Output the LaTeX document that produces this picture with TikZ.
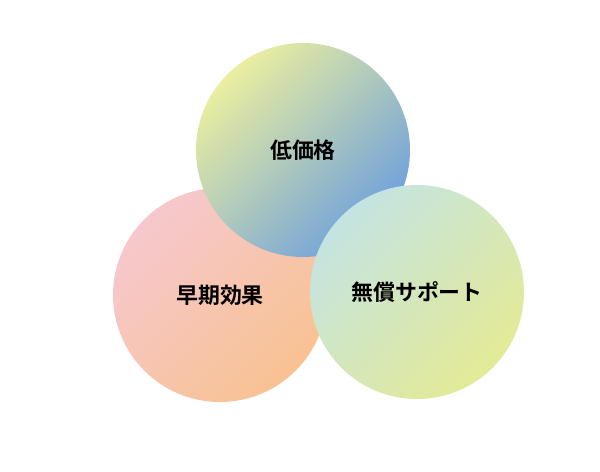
\documentclass[tikz,border=0pt]{standalone}
\usepackage{fontspec}
\newfontfamily\cjk{Noto Sans CJK JP}[BoldFont={Noto Sans CJK JP Bold}]
\begin{document}
\begin{tikzpicture}[x=1bp,y=-1bp, every node/.style={circle,minimum size=214bp,inner sep=0pt,font=\cjk\bfseries\fontsize{22}{26}\selectfont}]
  \useasboundingbox[fill=white] (0,0) rectangle (600,472);
  \node [shade,top color={rgb,255:red,246;green,200;blue,206},bottom color={rgb,255:red,248;green,194;blue,146},shading angle=45] (early) at (220,295) {早期効果};
  \node [shade,top color={rgb,255:red,234;green,238;blue,160},bottom color={rgb,255:red,110;green,160;blue,220},shading angle=45] (price) at (303,150) {低価格};
  \node [shade,top color={rgb,255:red,196;green,228;blue,226},bottom color={rgb,255:red,228;green,234;blue,150},shading angle=45] (support) at (417,292) {無償サポート};
\end{tikzpicture}
\end{document}
